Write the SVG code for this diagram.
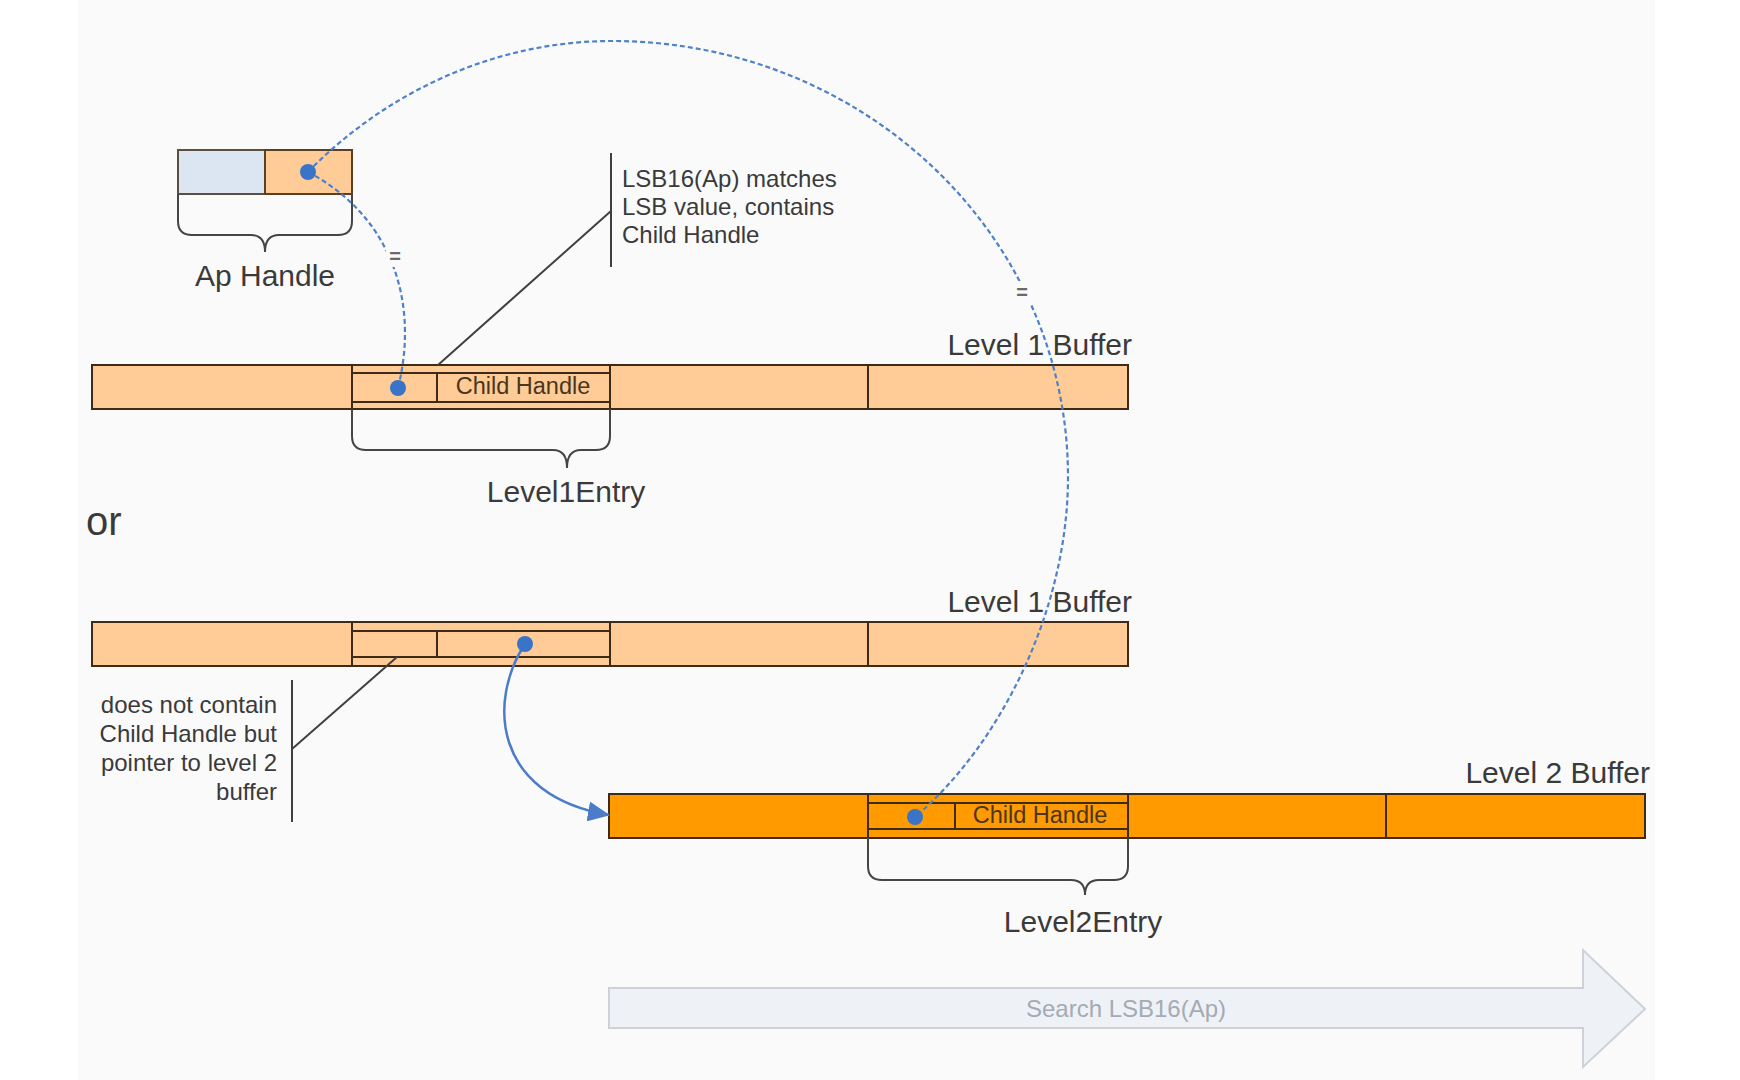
<svg xmlns="http://www.w3.org/2000/svg" width="1740" height="1080" viewBox="0 0 1740 1080">
<defs>
<style>
.bg{fill:#ffffff}
.tint{fill:#fafafa}
.bar1{fill:#FFCB96;stroke:#3d2b17;stroke-width:2}
.bar2{fill:#FF9A00;stroke:#3d2b17;stroke-width:2}
.ln{fill:none;stroke:#3d2b17;stroke-width:2}
.brace{fill:none;stroke:#454545;stroke-width:2}
.lead{fill:none;stroke:#404040;stroke-width:2}
.txt{font-family:"Liberation Sans",Arial,sans-serif;fill:#3a3a3a}
.big{font-size:30px}
.small{font-size:24px}
.cell{font-family:"Liberation Sans",Arial,sans-serif;font-size:23.5px;fill:#4a3620}
.dash{fill:none;stroke:#4F81C9;stroke-width:2.2;stroke-dasharray:5 3}
.solid{fill:none;stroke:#4A7CC9;stroke-width:2.5}
.dot{fill:#3A74C8}
.eq{font-family:"Liberation Sans",Arial,sans-serif;font-size:20px;font-weight:bold;fill:#6a6a6a}
</style>
<marker id="ah" viewBox="0 0 22 20" refX="21" refY="10" markerWidth="22" markerHeight="20" markerUnits="userSpaceOnUse" orient="auto">
<path d="M0,0 L22,10 L0,20 z" fill="#4A7CC9"/>
</marker>
</defs>
<rect class="bg" x="0" y="0" width="1740" height="1080"/>
<rect class="tint" x="78" y="0" width="1577" height="1080"/>

<g id="search-arrow">
<path d="M609,988 H1583 V950 L1645,1009 L1583,1067 V1028 H609 Z" fill="#EEF1F5" stroke="#CDD2D8" stroke-width="2"/>
<text x="1126" y="1017" text-anchor="middle" font-family="Liberation Sans, Arial, sans-serif" font-size="24" fill="#A4ABB3">Search LSB16(Ap)</text>
</g>

<g id="ap-handle">
<rect x="178" y="150" width="87" height="44" fill="#DCE6F2" stroke="#5a5040" stroke-width="2"/>
<rect x="265" y="150" width="87" height="44" fill="#FFCB96" stroke="#5a3f20" stroke-width="2"/>
<path class="brace" d="M178,194 V221 Q178,235 192,235 H251 Q265,235 265,252 Q265,235 279,235 H338 Q352,235 352,221 V194"/>
<text class="txt big" x="265" y="286" text-anchor="middle">Ap Handle</text>
</g>

<g id="level1-buffer-a">
<rect class="bar1" x="92" y="365" width="1036" height="44"/>
<line class="ln" x1="868" y1="365" x2="868" y2="409"/>
<line class="ln" x1="352" y1="365" x2="352" y2="409"/>
<line class="ln" x1="610" y1="365" x2="610" y2="409"/>
<rect class="ln" x="352" y="373" width="258" height="29"/>
<line class="ln" x1="437" y1="373" x2="437" y2="402"/>
<text class="cell" x="523" y="394" text-anchor="middle">Child Handle</text>
<path class="brace" d="M352,409 V436 Q352,450 366,450 H553 Q567,450 567,468 Q567,450 581,450 H596 Q610,450 610,436 V409"/>
<text class="txt big" x="566" y="502" text-anchor="middle">Level1Entry</text>
<text class="txt big" x="1132" y="355" text-anchor="end">Level 1 Buffer</text>
</g>

<g id="or-label">
<text class="txt" x="86" y="535" font-size="40">or</text>
</g>

<g id="level1-buffer-b">
<rect class="bar1" x="92" y="622" width="1036" height="44"/>
<line class="ln" x1="868" y1="622" x2="868" y2="666"/>
<line class="ln" x1="352" y1="622" x2="352" y2="666"/>
<line class="ln" x1="610" y1="622" x2="610" y2="666"/>
<rect class="ln" x="352" y="631" width="258" height="26"/>
<line class="ln" x1="437" y1="631" x2="437" y2="657"/>
<text class="txt big" x="1132" y="612" text-anchor="end">Level 1 Buffer</text>
</g>

<g id="level2-buffer">
<rect class="bar2" x="609" y="794" width="1036" height="44"/>
<line class="ln" x1="1386" y1="794" x2="1386" y2="838"/>
<line class="ln" x1="868" y1="794" x2="868" y2="838"/>
<line class="ln" x1="1128" y1="794" x2="1128" y2="838"/>
<rect class="ln" x="868" y="803" width="260" height="26"/>
<line class="ln" x1="955" y1="803" x2="955" y2="829"/>
<text class="cell" x="1040" y="823" text-anchor="middle">Child Handle</text>
<path class="brace" d="M868,838 V866 Q868,880 882,880 H1071 Q1085,880 1085,895 Q1085,880 1099,880 H1114 Q1128,880 1128,866 V838"/>
<text class="txt big" x="1083" y="932" text-anchor="middle">Level2Entry</text>
<text class="txt big" x="1650" y="783" text-anchor="end">Level 2 Buffer</text>
</g>

<g id="note-match">
<line class="lead" x1="611" y1="153" x2="611" y2="267"/>
<line class="lead" x1="438" y1="365" x2="611" y2="211"/>
<text class="txt small" x="622" y="187">LSB16(Ap) matches</text>
<text class="txt small" x="622" y="215">LSB value, contains</text>
<text class="txt small" x="622" y="243">Child Handle</text>
</g>

<g id="note-pointer">
<line class="lead" x1="292" y1="680" x2="292" y2="822"/>
<line class="lead" x1="292" y1="749" x2="397" y2="657"/>
<text class="txt small" x="277" y="713" text-anchor="end">does not contain</text>
<text class="txt small" x="277" y="742" text-anchor="end">Child Handle but</text>
<text class="txt small" x="277" y="771" text-anchor="end">pointer to level 2</text>
<text class="txt small" x="277" y="800" text-anchor="end">buffer</text>
</g>

<g id="connectors">
<path class="dash" d="M308,172 C390,88 500,41 612,41 C864,41 1068,236 1068,477 C1068,610 1000,745 915,817"/>
<path class="dash" d="M308,172 C390,215 420,300 398,388"/>
<rect class="tint" x="386" y="245" width="18" height="22"/>
<text class="eq" x="395" y="263" text-anchor="middle">=</text>
<rect class="tint" x="1012" y="281" width="19" height="22"/>
<text class="eq" x="1022" y="299" text-anchor="middle">=</text>
<path class="solid" d="M525,644 C488,700 492,795 609,815" marker-end="url(#ah)"/>
<circle class="dot" cx="308" cy="172" r="8"/>
<circle class="dot" cx="398" cy="388" r="8"/>
<circle class="dot" cx="525" cy="644" r="8"/>
<circle class="dot" cx="915" cy="817" r="8"/>
</g>
</svg>
